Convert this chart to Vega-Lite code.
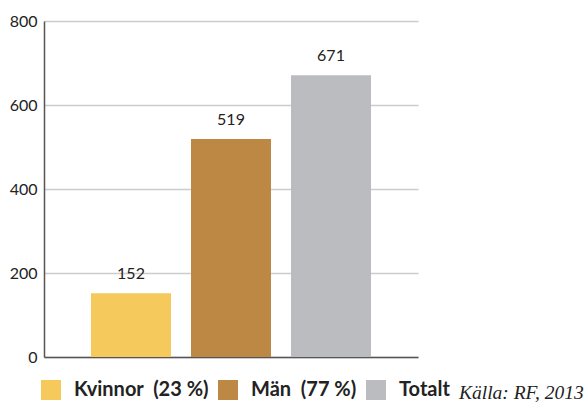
{
  "$schema": "https://vega.github.io/schema/vega-lite/v6.json",
  "autosize": "none",
  "width": 374,
  "height": 336,
  "padding": {"left": 44, "top": 21, "right": 168, "bottom": 49},
  "background": "white",
  "title": {
    "text": "Källa: RF, 2013",
    "orient": "bottom",
    "anchor": "start",
    "frame": "group",
    "dx": 415,
    "dy": -16,
    "font": "Liberation Serif",
    "fontStyle": "italic",
    "fontWeight": "normal",
    "fontSize": 19.5,
    "color": "#222222",
    "offset": 0
  },
  "data": {
    "values": [
      {"kategori": "Kvinnor\u00a0 (23\u00a0%)", "antal": 152},
      {"kategori": "Män\u00a0 (77\u00a0%)", "antal": 519},
      {"kategori": "Totalt", "antal": 671}
    ]
  },
  "config": {
    "view": {"stroke": null},
    "font": "Lato"
  },
  "encoding": {
    "x": {
      "field": "kategori",
      "type": "nominal",
      "sort": null,
      "scale": {"paddingInner": 0.2, "paddingOuter": 0.47},
      "axis": {"labels": false, "ticks": false, "title": null, "domainColor": "#555555", "domainWidth": 1.5}
    },
    "y": {
      "field": "antal",
      "type": "quantitative",
      "scale": {"domain": [0, 800]},
      "axis": {
        "values": [0, 200, 400, 600, 800],
        "title": null,
        "ticks": false,
        "labelPadding": 7,
        "labelFontSize": 16,
        "labelColor": "#222222",
        "labelFont": "Lato",
        "domainColor": "#555555",
        "domainWidth": 1.5,
        "gridColor": "#cccccc",
        "gridWidth": 1.5
      }
    }
  },
  "layer": [
    {
      "mark": {"type": "bar"},
      "encoding": {
        "color": {
          "field": "kategori",
          "type": "nominal",
          "sort": null,
          "scale": {"range": ["#F5C95C", "#BD8843", "#BBBCC0"]},
          "legend": {
            "orient": "none",
            "legendX": -3,
            "legendY": 359,
            "direction": "horizontal",
            "columns": 3,
            "title": null,
            "symbolType": "square",
            "symbolSize": 400,
            "symbolStrokeWidth": 0,
            "symbolOpacity": 1,
            "labelOffset": 13,
            "columnPadding": 9,
            "labelFontSize": 20,
            "labelFontWeight": "bold",
            "labelFont": "Lato",
            "labelColor": "#222222",
            "labelLimit": 300
          }
        }
      }
    },
    {
      "mark": {"type": "text", "baseline": "bottom", "dy": -11, "fontSize": 16, "color": "#222222", "font": "Lato"},
      "encoding": {
        "text": {"field": "antal", "type": "quantitative"}
      }
    }
  ]
}
